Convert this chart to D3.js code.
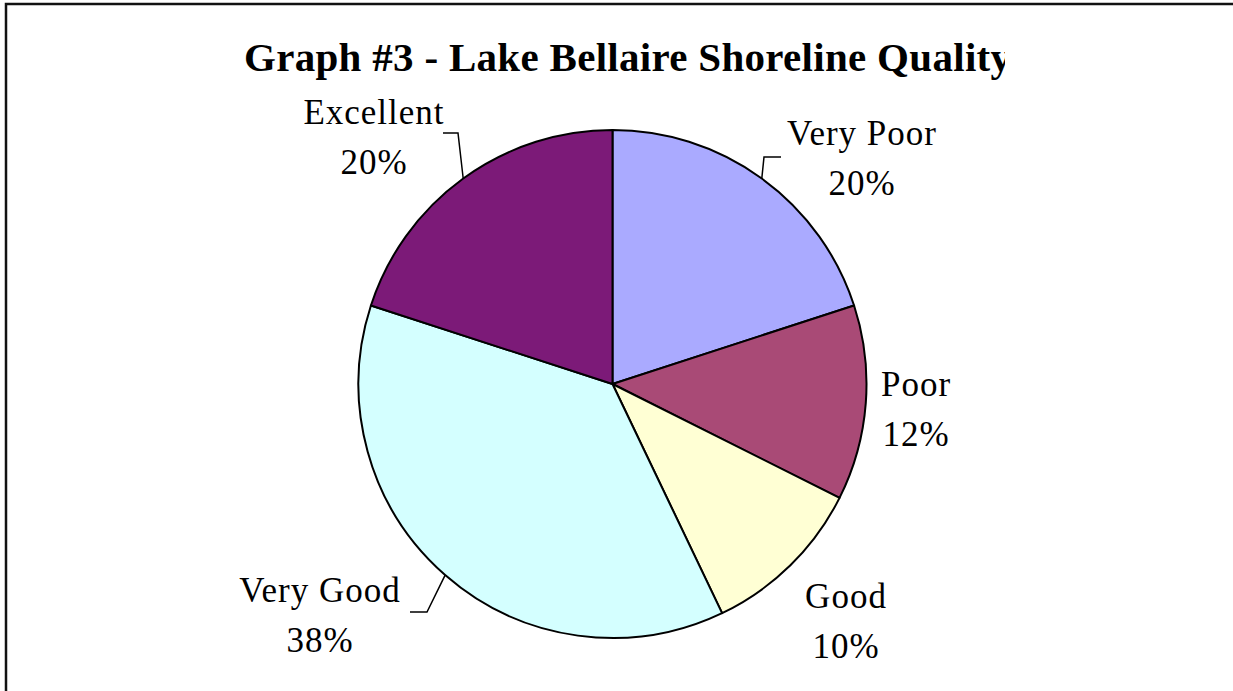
<!DOCTYPE html>
<html>
<head>
<meta charset="utf-8">
<script src="https://cdn.jsdelivr.net/npm/d3@7"></script>
<style>
  html, body { margin: 0; padding: 0; background: #fff; }
  svg { display: block; }
</style>
</head>
<body>
<svg id="chart"></svg>
<script>
// shoreline quality shares (clockwise from 12 o'clock)
var categories = ["Very Poor", "Poor", "Good", "Very Good", "Excellent"];
var shares = [20, 12.4, 10.5, 37.1, 20];
var pctLabels = ["20%", "12%", "10%", "38%", "20%"];
var colors = ["#AAAAFF", "#A94A76", "#FFFFD4", "#D4FFFF", "#7C1A78"];

var width = 1233, height = 691;
var cx = 612.5, cy = 384, radius = 254;

// where each label block sits (center x, baseline of first line)
var labelAt = {
  "Very Poor": [862, 145],
  "Poor": [916, 396],
  "Good": [846, 608],
  "Very Good": [320, 602],
  "Excellent": [374, 124]
};
// elbow of leader line -> end near label (only some labels have one)
var leaders = {
  "Very Poor": [[764, 157], [781, 157]],
  "Very Good": [[427, 612], [410, 612]],
  "Excellent": [[458, 133], [443, 133]]
};

var svg = d3.select("#chart")
  .attr("width", width)
  .attr("height", height);

// outer frame (right & bottom edges fall outside the window)
svg.append("rect")
  .attr("x", 6).attr("y", 4)
  .attr("width", 1400).attr("height", 900)
  .attr("fill", "none")
  .attr("stroke", "#111")
  .attr("stroke-width", 2.5);

// title is clipped on the right like the original
svg.append("clipPath").attr("id", "titleClip")
  .append("rect").attr("x", 0).attr("y", 0).attr("width", 1005).attr("height", 100);

svg.append("text")
  .attr("clip-path", "url(#titleClip)")
  .attr("x", 244)
  .attr("y", 71)
  .attr("font-family", "'Liberation Serif', 'Times New Roman', serif")
  .attr("font-weight", "bold")
  .attr("font-size", "41px")
  .attr("letter-spacing", "0.3px")
  .attr("fill", "#000")
  .text("Graph #3 - Lake Bellaire Shoreline Quality");

var data = categories.map(function(c, i) {
  return {name: c, value: shares[i], pct: pctLabels[i], color: colors[i]};
});

var pie = d3.pie()
  .sort(null)
  .value(function(d) { return d.value; });

var arcs = pie(data);

var arc = d3.arc().innerRadius(0).outerRadius(radius);
var rim = d3.arc().innerRadius(radius).outerRadius(radius);

var g = svg.append("g")
  .attr("transform", "translate(" + cx + "," + cy + ")");

g.selectAll("path.slice")
  .data(arcs)
  .enter()
  .append("path")
    .attr("class", "slice")
    .attr("d", arc)
    .attr("fill", function(d) { return d.data.color; })
    .attr("stroke", "#000")
    .attr("stroke-width", 2)
    .attr("stroke-linejoin", "round");

// leader lines from the rim at mid-angle
g.selectAll("path.leader")
  .data(arcs.filter(function(d) { return leaders[d.data.name]; }))
  .enter()
  .append("path")
    .attr("class", "leader")
    .attr("d", function(d) {
      var p = rim.centroid(d);
      var pts = leaders[d.data.name];
      return "M" + p[0] + "," + p[1] +
        "L" + (pts[0][0] - cx) + "," + (pts[0][1] - cy) +
        "L" + (pts[1][0] - cx) + "," + (pts[1][1] - cy);
    })
    .attr("fill", "none")
    .attr("stroke", "#000")
    .attr("stroke-width", 1.5);

var labels = svg.selectAll("text.lbl")
  .data(data)
  .enter()
  .append("text")
    .attr("class", "lbl")
    .attr("text-anchor", "middle")
    .attr("font-family", "'Liberation Serif', 'Times New Roman', serif")
    .attr("font-size", "35px")
    .attr("letter-spacing", "1px")
    .attr("fill", "#000");

labels.append("tspan")
  .attr("x", function(d) { return labelAt[d.name][0]; })
  .attr("y", function(d) { return labelAt[d.name][1]; })
  .text(function(d) { return d.name; });

labels.append("tspan")
  .attr("x", function(d) { return labelAt[d.name][0]; })
  .attr("y", function(d) { return labelAt[d.name][1] + 50; })
  .text(function(d) { return d.pct; });
</script>
</body>
</html>
